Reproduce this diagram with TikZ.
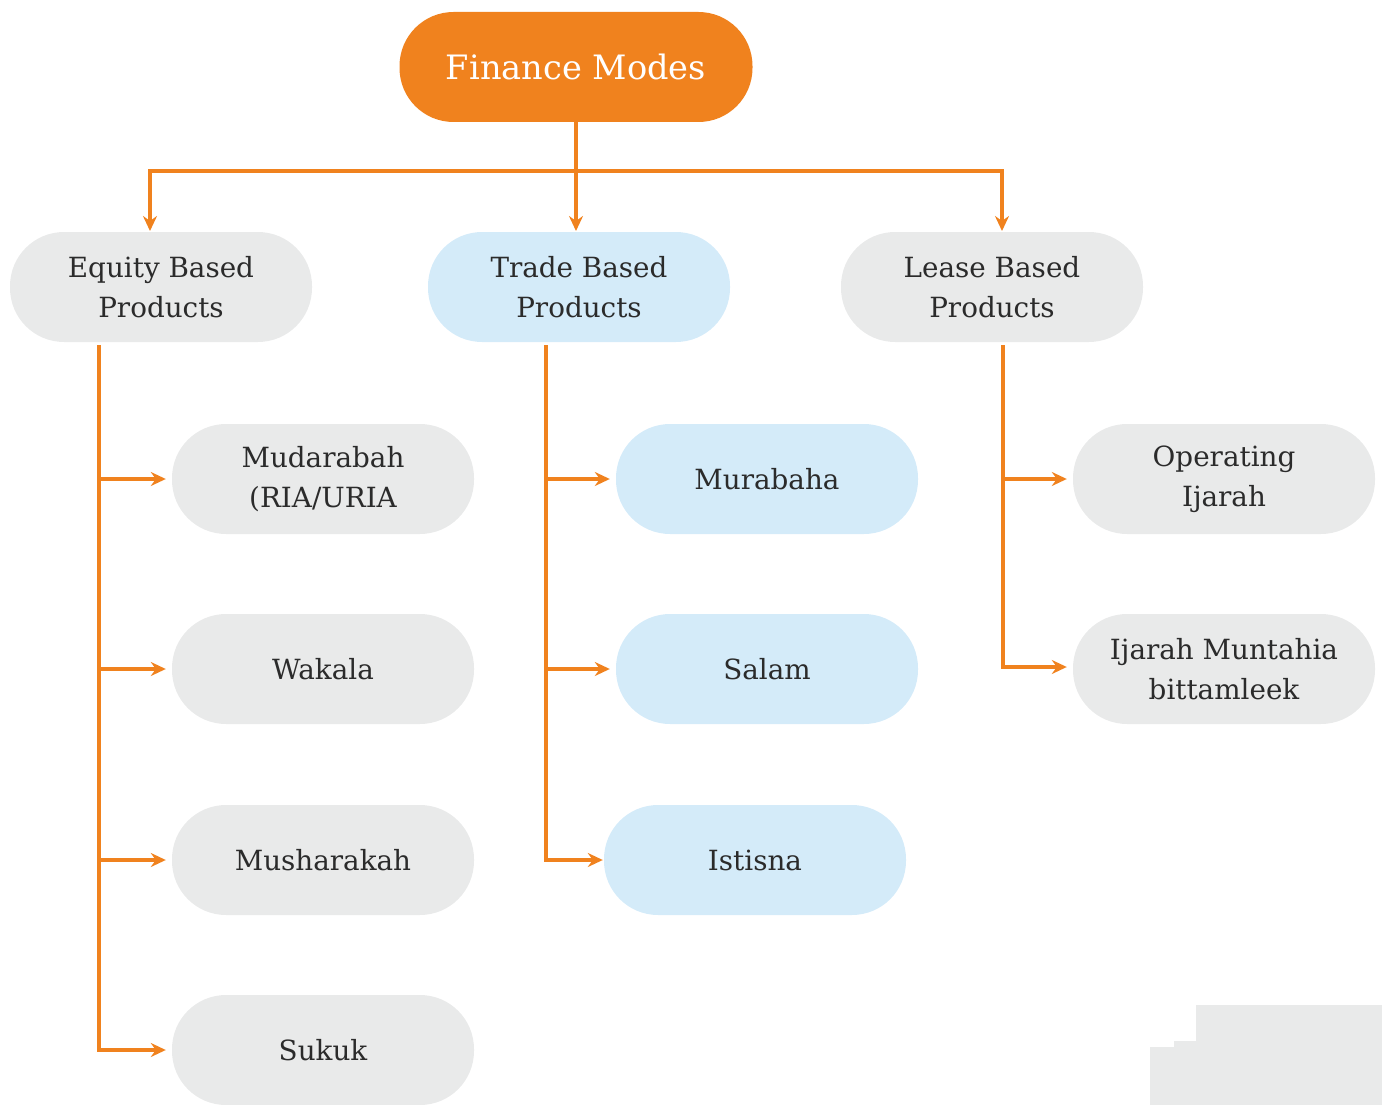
\documentclass[tikz,border=0pt]{standalone}
\usepackage{fontspec}
\setmainfont{DejaVu Serif}
\usetikzlibrary{arrows.meta}
\definecolor{orangec}{HTML}{F0821E}
\definecolor{greyc}{HTML}{E9EAEA}
\definecolor{bluec}{HTML}{D4EBF9}
\definecolor{textc}{HTML}{2B2B2B}
\tikzset{
  pill/.style={rounded corners=54pt, minimum width=302pt, minimum height=110pt, align=center, inner sep=0pt, text=textc, font=\fontsize{27.8}{40}\selectfont},
  greypill/.style={pill, fill=greyc},
  bluepill/.style={pill, fill=bluec},
  conn/.style={draw=orangec, line width=3.5pt},
  arr/.style={conn, -{Stealth[length=15pt,width=14pt,inset=5pt]}, shorten >=6pt}
}
\begin{document}
\begin{tikzpicture}[x=1pt,y=-1pt]
\useasboundingbox (0,0) rectangle (1382,1105);
\fill[greyc] (1196,1005) -- (1382,1005) -- (1382,1105) -- (1150,1105) -- (1150,1047) -- (1174,1047) -- (1174,1041) -- (1196,1041) -- cycle;
\node[pill, fill=orangec, text=white, minimum width=353pt, font=\fontsize{33.6}{40}\selectfont] (fm) at (576,67) {Finance Modes};
\node[greypill] (eq) at (161,287) {Equity Based\\Products};
\node[bluepill] (tr) at (579,287) {Trade Based\\Products};
\node[greypill] (le) at (992,287) {Lease Based\\Products};
\node[greypill] (mu) at (323,479) {Mudarabah\\(RIA/URIA};
\node[greypill] (wa) at (323,669) {Wakala};
\node[greypill] (ms) at (323,860) {Musharakah};
\node[greypill] (su) at (323,1050) {Sukuk};
\node[bluepill] (mr) at (767,479) {Murabaha};
\node[bluepill] (sa) at (767,669) {Salam};
\node[bluepill] (is) at (755,860) {Istisna};
\node[greypill] (op) at (1224,479) {Operating\\Ijarah};
\node[greypill] (ij) at (1224,669) {Ijarah Muntahia\\bittamleek};
% top connectors
\coordinate (top) at (576,171);
\draw[arr, shorten >=0pt] (fm.south) -- (576,231);
\draw[arr, shorten >=0pt] (top) -| (150,231);
\draw[arr, shorten >=0pt] (top) -| (1002,231);
% equity
\coordinate (e0) at (99,345);
\draw[conn] (e0) -- (99,1051.75);
\draw[arr] (99,479) -- (mu.west);
\draw[arr] (99,669) -- (wa.west);
\draw[arr] (99,860) -- (ms.west);
\draw[arr] (99,1050) -- (su.west);
% trade
\coordinate (t0) at (546,345);
\draw[conn] (t0) -- (546,861.75);
\draw[arr] (546,479) -- (mr.west);
\draw[arr] (546,669) -- (sa.west);
\draw[arr, shorten >=1pt] (546,860) -- (is.west);
% lease
\coordinate (l0) at (1003,345);
\draw[conn] (l0) -- (1003,668.75);
\draw[arr] (1003,479) -- (op.west);
\draw[arr] (1003,667) -- (ij.west |- 0,667);
\end{tikzpicture}
\end{document}
